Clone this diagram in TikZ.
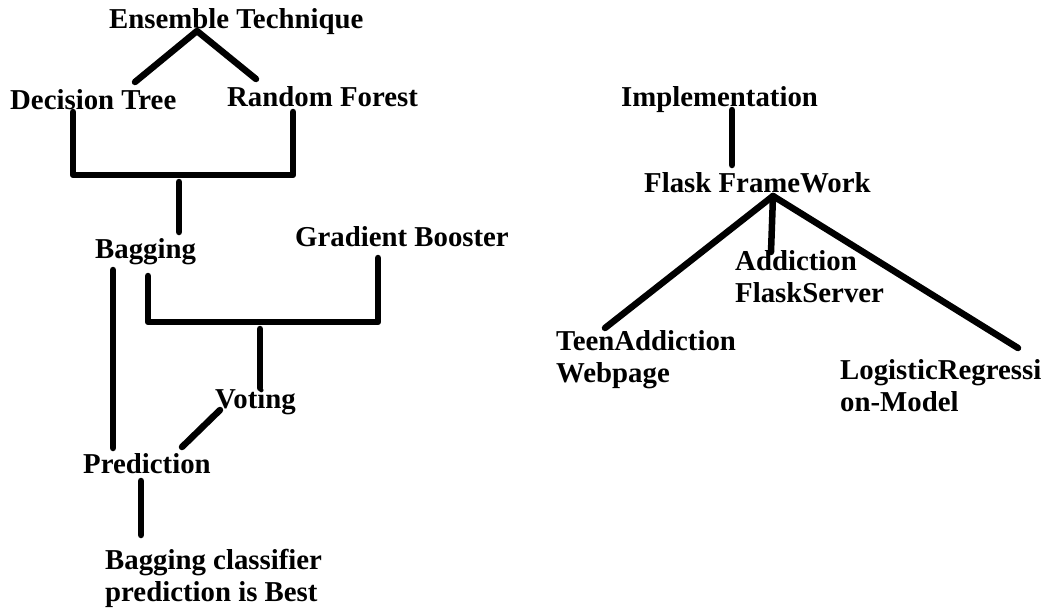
\documentclass[tikz,border=0pt]{standalone}
\usepackage{fontspec}
\setmainfont{Liberation Serif}
\begin{document}
\begin{tikzpicture}[x=1pt,y=-1pt,
  lbl/.style={anchor=west,inner sep=0pt,font=\bfseries\fontsize{28.8}{32}\selectfont,align=left},
  conn/.style={line width=6.5pt,line cap=round,line join=round}]
\useasboundingbox (0,0) rectangle (1049,608);
% left tree
\node[lbl] (et) at (109,22) {Ensemble Technique};
\node[lbl] (dt) at (10,100) {Decision Tree};
\node[lbl] (rf) at (227,97) {Random Forest};
\node[lbl] (bg) at (95,252) {Bagging};
\node[lbl] (gb) at (295,237) {Gradient Booster};
\node[lbl] (vt) at (215,402) {Voting};
\node[lbl] (pr) at (83,464) {Prediction};
\node[lbl] (bc) at (105,578) {Bagging classifier\\prediction is Best};
% right tree
\node[lbl] (im) at (621,100) {Implementation};
\node[lbl] (ff) at (644,183) {Flask FrameWork};
\node[lbl] (af) at (735,277) {Addiction\\FlaskServer};
\node[lbl] (ta) at (556,360) {TeenAddiction\\Webpage};
\node[lbl] (lr) at (840,386) {LogisticRegressi\\on-Model};
% coordinates
\coordinate (etb) at (197,31);
\coordinate (dtt) at (135,82);
\coordinate (rft) at (256,79);
\coordinate (dtb) at (73,112);
\coordinate (rfb) at (293,112);
\coordinate (j1l) at (73,175);
\coordinate (j1r) at (293,175);
\coordinate (j1m) at (179,182);
\coordinate (bgt) at (179,232);
\coordinate (bgb1) at (113,270);
\coordinate (prt1) at (113,448);
\coordinate (bgb2) at (148,276);
\coordinate (j2l) at (148,322);
\coordinate (j2r) at (378,322);
\coordinate (gbb) at (378,258);
\coordinate (j2m) at (260,329);
\coordinate (vtt) at (260,388);
\coordinate (vtb) at (220,410);
\coordinate (prt2) at (182,447);
\coordinate (prb) at (141,481);
\coordinate (bct) at (141,535);
\coordinate (imb) at (732,110);
\coordinate (fft) at (732,165);
\coordinate (ffb) at (773,196);
\coordinate (tat) at (605,328);
\coordinate (aft) at (771,252);
\coordinate (lrt) at (1018,348);
% connectors
\draw[conn] (dtt) -- (etb) -- (rft);
\draw[conn] (dtb) -- (j1l) -- (j1r) -- (rfb);
\draw[conn] (j1m) -- (bgt);
\draw[conn] (bgb1) -- (prt1);
\draw[conn] (bgb2) -- (j2l) -- (j2r) -- (gbb);
\draw[conn] (j2m) -- (vtt);
\draw[conn] (vtb) -- (prt2);
\draw[conn] (prb) -- (bct);
\draw[conn] (imb) -- (fft);
\draw[conn] (ffb) -- (tat);
\draw[conn] (ffb) -- (aft);
\draw[conn] (ffb) -- (lrt);
\end{tikzpicture}
\end{document}
